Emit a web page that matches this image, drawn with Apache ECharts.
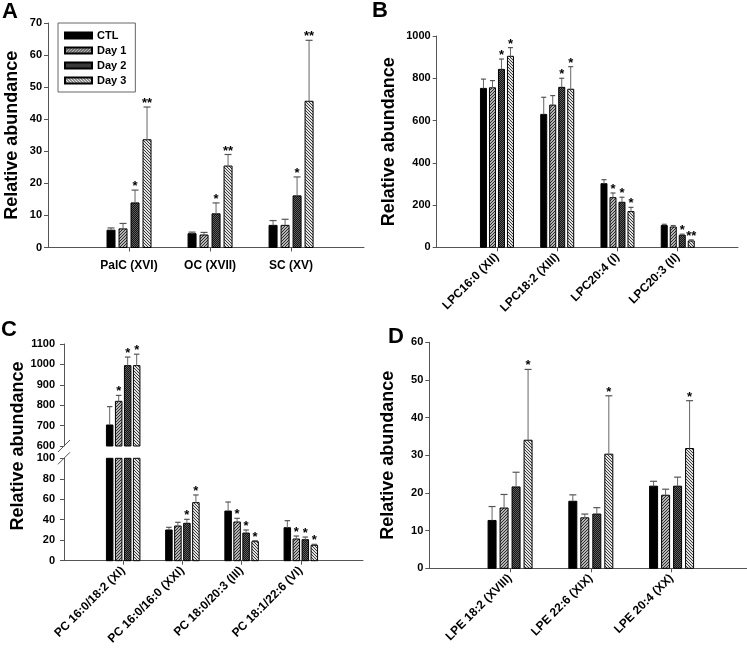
<!DOCTYPE html>
<html><head><meta charset="utf-8">
<script src="https://cdn.jsdelivr.net/npm/echarts@6/dist/echarts.min.js"></script>
<style>html,body{margin:0;padding:0;background:#fff}#c{width:747px;height:648px}</style>
</head><body><div id="c"></div>
<script>
// ---------- DATA ----------
const seriesNames = ['CTL', 'Day 1', 'Day 2', 'Day 3'];

const catsA = ['PalC (XVI)', 'OC (XVII)', 'SC (XV)'];
const meanA = [[5.4, 5.8, 13.9, 33.6], [4.3, 3.9, 10.5, 25.4], [6.9, 6.9, 16.1, 45.6]];
const errTopA = [[6.1, 7.5, 17.9, 43.8], [4.8, 4.7, 13.9, 29.0], [8.4, 8.8, 22.0, 64.6]];
const sigA = [['', '', '*', '**'], ['', '', '*', '**'], ['', '', '*', '**']];

const catsB = ['LPC16:0 (XII)', 'LPC18:2 (XIII)', 'LPC20:4 (I)', 'LPC20:3 (II)'];
const meanB = [[752, 755, 842, 904], [629, 673, 757, 748], [301, 235, 213, 169], [103, 96, 57, 30]];
const errTopB = [[796, 789, 891, 945], [710, 718, 800, 855], [320, 257, 237, 189], [109, 103, 62, 35]];
const sigB = [['', '', '*', '*'], ['', '', '*', '*'], ['', '*', '*', '*'], ['', '', '*', '**']];

const catsC = ['PC 16:0/18:2 (XI)', 'PC 16:0/16:0 (XXI)', 'PC 18:0/20:3 (III)', 'PC 18:1/22:6 (VI)'];
const meanC = [[703, 819, 994, 994], [30.0, 33.9, 36.5, 56.7], [48.5, 37.8, 27.0, 18.6], [32.2, 21.2, 20.5, 15.0]];
const errTopC = [[793, 848, 1036, 1050], [32.6, 37.5, 40.4, 64.2], [57.3, 41.4, 30.0, 19.5], [39.1, 24.1, 23.1, 16.0]];
const sigC = [['', '*', '*', '*'], ['', '', '*', '*'], ['', '*', '*', '*'], ['', '*', '*', '*']];
const breakLowC = 100, breakHighC = 600;

const catsD = ['LPE 18:2 (XVIII)', 'LPE 22:6 (XIX)', 'LPE 20:4 (XX)'];
const meanD = [[12.7, 16.0, 21.6, 34.0], [17.8, 13.4, 14.4, 30.3], [21.8, 19.4, 21.8, 31.8]];
const errTopD = [[16.4, 19.6, 25.5, 52.8], [19.5, 14.4, 16.1, 45.8], [23.1, 21.0, 24.2, 44.5]];
const sigD = [['', '', '', '*'], ['', '', '', '*'], ['', '', '', '*']];

// ---------- STYLE ----------
const FONT = 'Liberation Sans';
const AXIS_COLOR = '#555';

function makePattern(n, fn) {
  const c = document.createElement('canvas');
  c.width = n; c.height = n;
  const g = c.getContext('2d');
  for (let y = 0; y < n; y++) for (let x = 0; x < n; x++) {
    g.fillStyle = fn(x, y); g.fillRect(x, y, 1, 1);
  }
  return { image: c, repeat: 'repeat' };
}
const fills = [
  '#000',
  makePattern(3, (x, y) => ((x + y) % 3 === 0 ? '#2e2e2e' : '#b4b4b4')),
  makePattern(2, (x, y) => ((x + y) % 2 === 0 ? '#5e5e5e' : '#141414')),
  makePattern(3, (x, y) => ((x - y + 9) % 3 === 0 ? '#3c3c3c' : '#e2e2e2'))
];

function barSeries(xIdx, yIdx, mean, errTop, sig, bw, pitch, lo, hi) {
  return seriesNames.map((name, k) => ({
    type: 'custom', name: name, xAxisIndex: xIdx, yAxisIndex: yIdx,
    itemStyle: { color: fills[k], borderColor: '#000', borderWidth: 1 },
    data: mean.map((row, i) => [i + 1, row[k], errTop[i][k]]),
    renderItem: function (params, api) {
      const i = params.dataIndex;
      const x = api.value(0), v = api.value(1), e = api.value(2);
      const children = [];
      if (v > lo) {
        const p0 = api.coord([x, lo]);
        const p1 = api.coord([x, Math.min(v, hi)]);
        const cx = p0[0] + (k - 1.5) * pitch;
        children.push({ type: 'rect', shape: { x: cx - bw / 2, y: p1[1], width: bw, height: p0[1] - p1[1] },
          style: { fill: fills[k], stroke: '#000', lineWidth: 1 } });
        if (v <= hi) {
          const pe = api.coord([x, e]);
          const cw = bw - 1;
          children.push({ type: 'line', shape: { x1: cx, y1: p1[1], x2: cx, y2: pe[1] }, style: { stroke: '#666', lineWidth: 1 } });
          children.push({ type: 'line', shape: { x1: cx - cw / 2, y1: pe[1], x2: cx + cw / 2, y2: pe[1] }, style: { stroke: '#555', lineWidth: 1.2 } });
          const s = sig[i][k];
          if (s) children.push({ type: 'text', x: cx, y: pe[1] + 3,
            style: { text: s, font: 'bold 13px "' + FONT + '"', fill: '#000', align: 'center', verticalAlign: 'bottom' } });
        }
      }
      return { type: 'group', children: children };
    }
  }));
}

function breakMark(xIdx, yIdx, yVal) {
  return {
    type: 'custom', xAxisIndex: xIdx, yAxisIndex: yIdx, silent: true,
    data: [[0, yVal]],
    renderItem: function (params, api) {
      const p = api.coord([api.value(0), api.value(1)]);
      return { type: 'line', shape: { x1: p[0] - 6, y1: p[1] + 6, x2: p[0] + 6, y2: p[1] - 6 }, style: { stroke: '#555', lineWidth: 1 } };
    }
  };
}

function xAxisDef(gridIndex, cats, min, max, rotate) {
  const vals = cats.map((c, i) => i + 1);
  return {
    type: 'value', gridIndex: gridIndex, min: min, max: max,
    splitLine: { show: false },
    axisLine: { show: true, onZero: false, lineStyle: { color: AXIS_COLOR, width: 1 } },
    axisTick: { show: true, customValues: vals, length: 4, lineStyle: { color: AXIS_COLOR } },
    axisLabel: { customValues: vals, rotate: rotate, margin: rotate ? 8 : 12,
      formatter: v => cats[Math.round(v) - 1] || '',
      fontFamily: FONT, fontWeight: 'bold', fontSize: 12, color: '#000' }
  };
}
function yAxisDef(gridIndex, min, max, interval, name, nameGap) {
  const ax = {
    type: 'value', gridIndex: gridIndex, min: min, max: max, interval: interval,
    splitLine: { show: false },
    axisLine: { show: true, lineStyle: { color: AXIS_COLOR, width: 1 } },
    axisTick: { show: true, length: 4, lineStyle: { color: AXIS_COLOR } },
    axisLabel: { margin: 6, formatter: v => String(v),
      fontFamily: FONT, fontWeight: 'bold', fontSize: 11, color: '#000' }
  };
  if (name) {
    ax.name = name; ax.nameLocation = 'middle'; ax.nameGap = nameGap;
    ax.nameTextStyle = { fontFamily: FONT, fontWeight: 'bold', fontSize: 18, color: '#000' };
  }
  return ax;
}

const chart = echarts.init(document.getElementById('c'));
const letter = (t, x, y) => ({ type: 'text', left: x, top: y,
  style: { text: t, font: 'bold 22px "' + FONT + '"', fill: '#000' } });

chart.setOption({
  animation: false,
  backgroundColor: '#fff',
  grid: [
    { left: 48, top: 23, width: 316, height: 224.5, outerBoundsMode: 'none' },
    { left: 436.7, top: 36, width: 301.3, height: 211.3, outerBoundsMode: 'none' },
    { left: 61, top: 344, width: 302, height: 102, outerBoundsMode: 'none' },
    { left: 61, top: 458.3, width: 302, height: 102.4, outerBoundsMode: 'none' },
    { left: 429.3, top: 342.3, width: 317.4, height: 226, outerBoundsMode: 'none' }
  ],
  xAxis: [
    xAxisDef(0, catsA, 0, 3.9, 0),
    xAxisDef(1, catsB, 0, 5, 45),
    Object.assign(xAxisDef(2, catsC, -0.05, 5.05, 45), { show: false }),
    xAxisDef(3, catsC, -0.05, 5.05, 45),
    xAxisDef(4, catsD, 0, 3.93, 45)
  ],
  yAxis: [
    yAxisDef(0, 0, 70, 10, 'Relative abundance', 27),
    yAxisDef(1, 0, 1000, 200, 'Relative abundance', 39),
    yAxisDef(2, breakHighC, 1100, 100),
    yAxisDef(3, 0, breakLowC, 20),
    yAxisDef(4, 0, 60, 10, 'Relative abundance', 32)
  ],
  legend: {
    show: true, orient: 'vertical', left: 58, top: 23,
    data: seriesNames, icon: 'rect', itemWidth: 27, itemHeight: 6, itemGap: 2,
    borderColor: '#666', borderWidth: 1, padding: [6, 9, 5, 6],
    selectedMode: false,
    textStyle: { fontFamily: FONT, fontWeight: 'bold', fontSize: 11, color: '#000', lineHeight: 13 }
  },
  graphic: [
    letter('A', 2, 1), letter('B', 372, 0), letter('C', 1, 319), letter('D', 388, 326),
    { type: 'text', x: 18.5, y: 446, rotation: Math.PI / 2,
      style: { text: 'Relative abundance', font: 'bold 18px "' + FONT + '"', fill: '#000', align: 'center', verticalAlign: 'middle' } }
  ],
  series: [].concat(
    barSeries(0, 0, meanA, errTopA, sigA, 8, 12, 0, 70),
    barSeries(1, 1, meanB, errTopB, sigB, 6, 9, 0, 1000),
    barSeries(2, 2, meanC, errTopC, sigC, 6.5, 9, breakHighC, 1100),
    barSeries(3, 3, meanC, errTopC, sigC, 6.5, 9, 0, breakLowC),
    barSeries(4, 4, meanD, errTopD, sigD, 8, 12, 0, 60),
    [breakMark(2, 2, breakHighC), breakMark(3, 3, breakLowC)]
  )
});
</script></body></html>
